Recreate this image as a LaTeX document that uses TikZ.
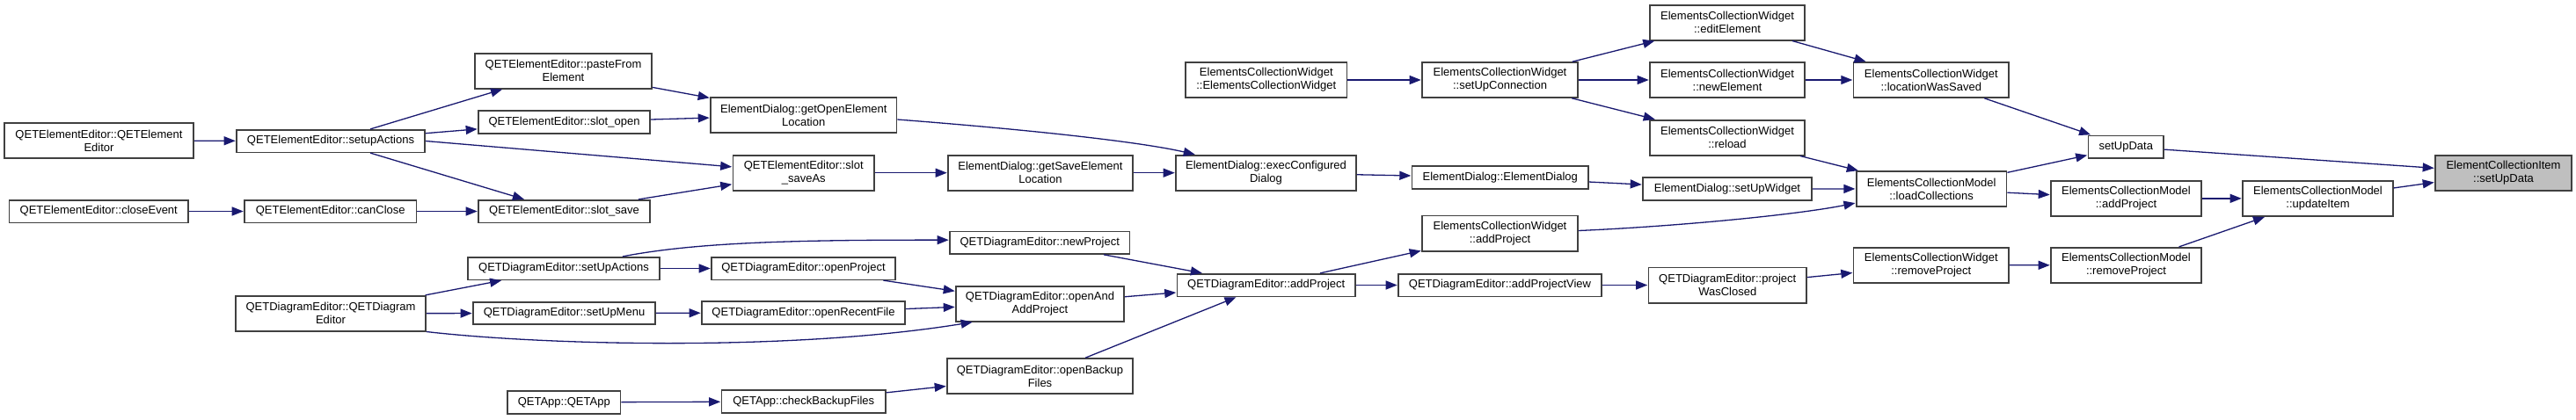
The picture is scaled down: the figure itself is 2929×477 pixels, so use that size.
\documentclass[tikz,border=0pt]{standalone}
\usepackage{fontspec}
\setmainfont{Liberation Sans}
\usetikzlibrary{arrows.meta}
\definecolor{edgec}{HTML}{191970}
\definecolor{borderc}{HTML}{404040}
\definecolor{hilite}{HTML}{BFBFBF}
\newcommand{\nd}[7][]{\node[box,#1,minimum width={(#5-#3)*1pt},minimum height={(#6-#4)*1pt}] (#2) at ({(#3+#5)/2},{-(#4+#6)/2}) {#7};}
\begin{document}
\begin{tikzpicture}[x=1pt,y=1pt,
  box/.style={draw=borderc,line width=1.6pt,fill=white,inner sep=0pt,align=center,font=\fontsize{13}{15}\selectfont},
  edge/.style={draw=edgec,line width=1.3pt,-{Triangle[length=13pt,width=10pt]},shorten >=0.5pt}]
\useasboundingbox (0,0) rectangle (2929,-477);
% column 1
\nd{qee}{5}{140}{220}{180}{QETElementEditor::QETElement\\Editor}
\nd{close}{10.5}{227.7}{214}{253.3}{QETElementEditor::closeEvent}
% column 2
\nd{setupA}{269}{147.7}{483}{173.3}{QETElementEditor::setupActions}
\nd{canclose}{278}{227.7}{473.5}{253.3}{QETElementEditor::canClose}
\nd{qde}{268}{336.7}{484}{376.7}{QETDiagramEditor::QETDiagram\\Editor}
% column 3
\nd{paste}{540}{60.7}{741}{100.7}{QETElementEditor::pasteFrom\\Element}
\nd{sopen}{544}{126}{739}{151.7}{QETElementEditor::slot\_open}
\nd{ssave}{544}{227.7}{739}{253.3}{QETElementEditor::slot\_save}
\nd{dsetupA}{532}{292.7}{750}{318.3}{QETDiagramEditor::setUpActions}
\nd{dsetupM}{538}{344}{745}{369}{QETDiagramEditor::setUpMenu}
\nd{qetapp}{577}{445}{705.5}{470.7}{QETApp::QETApp}
% column 4
\nd{getopen}{808}{111}{1019.5}{151}{ElementDialog::getOpenElement\\Location}
\nd{ssaveas}{833.5}{176.7}{994}{216.7}{QETElementEditor::slot\\\_saveAs}
\nd{oproj}{809}{292.7}{1018}{318.3}{QETDiagramEditor::openProject}
\nd{orecent}{798}{343}{1029}{369}{QETDiagramEditor::openRecentFile}
\nd{checkbk}{820.5}{444}{1007}{470}{QETApp::checkBackupFiles}
% column 5
\nd{getsave}{1078}{176.7}{1288}{216.7}{ElementDialog::getSaveElement\\Location}
\nd{newproj}{1080}{263.3}{1284.5}{289}{QETDiagramEditor::newProject}
\nd{openadd}{1087}{325.7}{1278}{365.7}{QETDiagramEditor::openAnd\\AddProject}
\nd{openbk}{1077}{408}{1288}{448}{QETDiagramEditor::openBackup\\Files}
% column 6
\nd{ecwecw}{1348}{71}{1531.6}{111}{ElementsCollectionWidget\\::ElementsCollectionWidget}
\nd{execdlg}{1337}{176.7}{1542}{216.7}{ElementDialog::execConfigured\\Dialog}
\nd{qdeadd}{1338.5}{311.7}{1541}{337.3}{QETDiagramEditor::addProject}
% column 7
\nd{setupconn}{1617}{71}{1794}{111}{ElementsCollectionWidget\\::setUpConnection}
\nd{eldlg}{1605.6}{189}{1806}{215}{ElementDialog::ElementDialog}
\nd{ecwadd}{1617}{245.3}{1794}{285.7}{ElementsCollectionWidget\\::addProject}
\nd{addview}{1590}{311.7}{1821}{337.3}{QETDiagramEditor::addProjectView}
% column 8
\nd{edit}{1876}{5.7}{2052}{45.7}{ElementsCollectionWidget\\::editElement}
\nd{newel}{1876}{71}{2052}{111}{ElementsCollectionWidget\\::newElement}
\nd{reload}{1876}{136.7}{2052}{176.7}{ElementsCollectionWidget\\::reload}
\nd{setupw}{1868}{202}{2060}{227.7}{ElementDialog::setUpWidget}
\nd{closed}{1874.5}{304.3}{2054}{344.7}{QETDiagramEditor::project\\WasClosed}
% column 9
\nd{locsaved}{2107.6}{71}{2284}{111}{ElementsCollectionWidget\\::locationWasSaved}
\nd{loadcoll}{2110.7}{195}{2281.6}{235}{ElementsCollectionModel\\::loadCollections}
\nd{ecwrem}{2107.6}{281.7}{2284}{321.7}{ElementsCollectionWidget\\::removeProject}
% column 10
\nd{setupdata}{2374.5}{154.3}{2460}{180}{setUpData}
\nd{ecmadd}{2332}{205.7}{2503}{246}{ElementsCollectionModel\\::addProject}
\nd{ecmrem}{2332}{281.7}{2503}{322}{ElementsCollectionModel\\::removeProject}
% column 11
\nd{update}{2550}{205.7}{2721}{246}{ElementsCollectionModel\\::updateItem}
% column 12
\nd[fill=hilite]{eci}{2769}{176.7}{2924}{216.7}{ElementCollectionItem\\::setUpData}
% edges
\draw[edge] (qee) -- (setupA);
\draw[edge] (setupA) -- (paste);
\draw[edge] (setupA) -- (sopen);
\draw[edge] (setupA.east) -- (ssaveas);
\draw[edge] (setupA) -- (ssave);
\draw[edge] (close) -- (canclose);
\draw[edge] (canclose) -- (ssave);
\draw[edge] (paste) -- (getopen);
\draw[edge] (sopen) -- (getopen);
\draw[edge] (ssave) -- (ssaveas);
\draw[edge] (ssaveas) -- (getsave);
\draw[edge] ([yshift=-5pt]getopen.east) .. controls (1150,-146) and (1290,-160) .. ([xshift=23pt]execdlg.north west);
\draw[edge] (getsave) -- (execdlg);
\draw[edge] (execdlg) -- (eldlg);
\draw[edge] (eldlg) -- (setupw);
\draw[edge] (setupw) -- (loadcoll);
\draw[edge] (ecwecw) -- (setupconn);
\draw[edge] (setupconn) -- (edit);
\draw[edge] (setupconn) -- (newel);
\draw[edge] (setupconn) -- (reload);
\draw[edge] (edit) -- (locsaved);
\draw[edge] (newel) -- (locsaved);
\draw[edge] (reload) -- (loadcoll);
\draw[edge] (locsaved) -- (setupdata);
\draw[edge] (loadcoll) -- (setupdata);
\draw[edge] (loadcoll) -- (ecmadd);
\draw[edge] (setupdata) -- (eci);
\draw[edge] (ecmadd) -- (update);
\draw[edge] (update) -- (eci);
\draw[edge] (ecmrem) -- (update);
\draw[edge] (ecwrem) -- (ecmrem);
\draw[edge] (closed) -- (ecwrem);
\draw[edge] (addview) -- (closed);
\draw[edge] (qdeadd) -- (addview);
\draw[edge] (qdeadd) -- (ecwadd);
\draw[edge] ([yshift=3pt]ecwadd.east) .. controls (1900,-258) and (2040,-245) .. ([yshift=-16pt]loadcoll.west);
\draw[edge] (qde) -- (dsetupA);
\draw[edge] (qde) -- (dsetupM);
\draw[edge] (qde.south east) .. controls (620,-393) and (900,-400) .. ([xshift=20pt]openadd.south west);
\draw[edge] ([xshift=67pt]dsetupA.north) .. controls (790,-276) and (900,-273) .. ([yshift=3pt]newproj.west);
\draw[edge] (dsetupA) -- (oproj);
\draw[edge] (dsetupM) -- (orecent);
\draw[edge] (oproj) -- (openadd);
\draw[edge] (orecent) -- (openadd);
\draw[edge] (newproj) -- (qdeadd);
\draw[edge] (openadd) -- (qdeadd);
\draw[edge] (openbk) -- (qdeadd);
\draw[edge] (qetapp) -- (checkbk);
\draw[edge] (checkbk) -- (openbk);
\end{tikzpicture}
\end{document}
